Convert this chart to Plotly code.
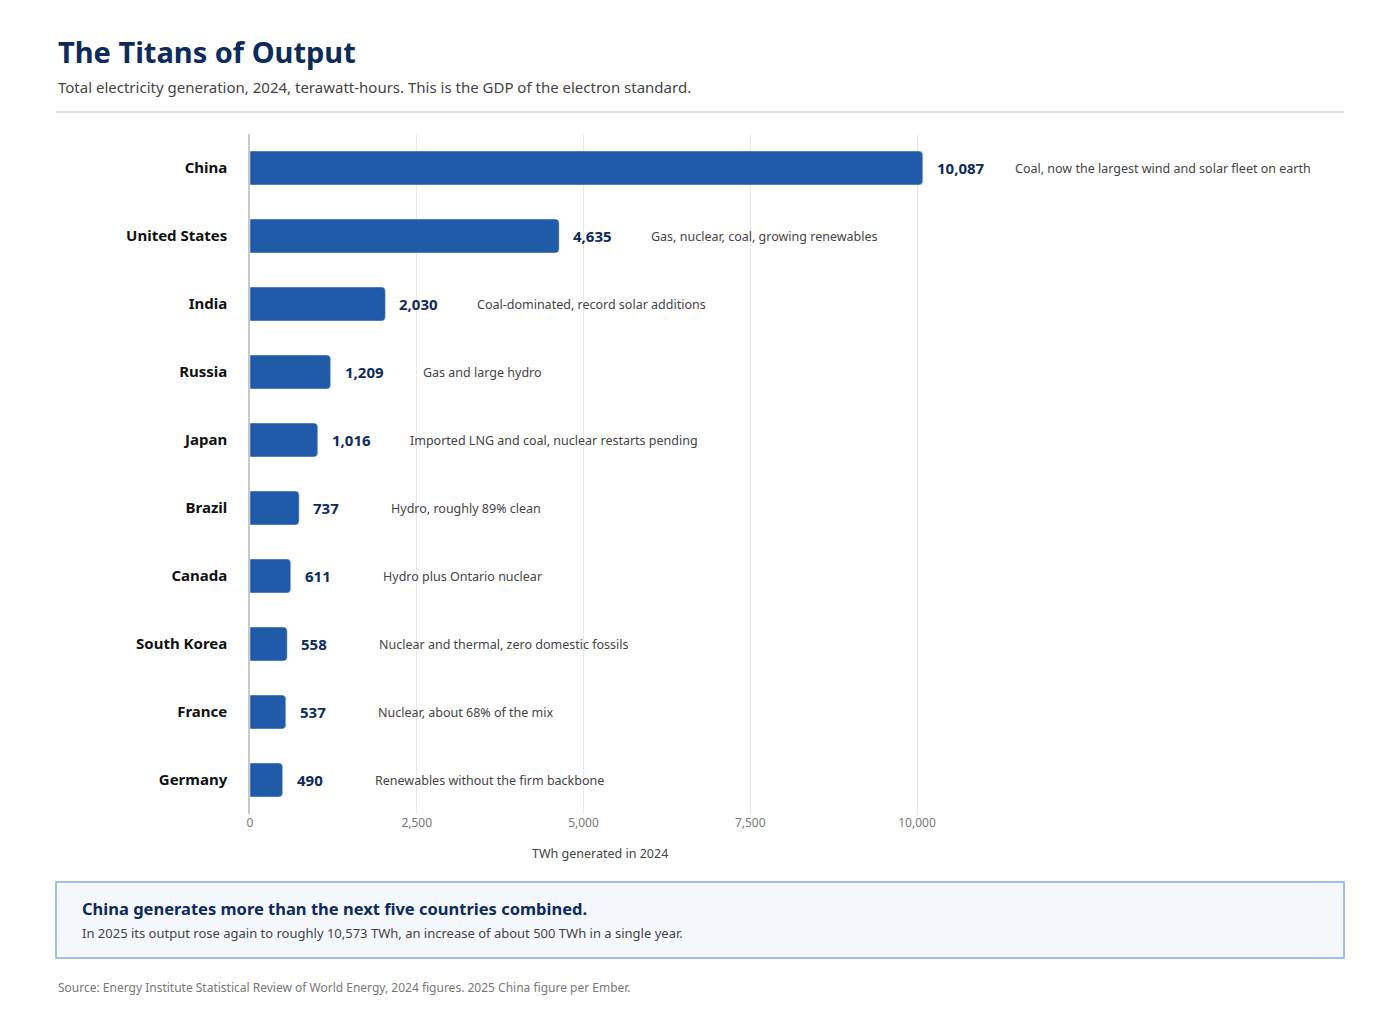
import plotly.graph_objects as go

countries = ["China", "United States", "India", "Russia", "Japan", "Brazil",
             "Canada", "South Korea", "France", "Germany"]
twh = [10087, 4635, 2030, 1209, 1016, 737, 611, 558, 537, 490]
notes = ["Coal, now the largest wind and solar fleet on earth",
         "Gas, nuclear, coal, growing renewables",
         "Coal-dominated, record solar additions",
         "Gas and large hydro",
         "Imported LNG and coal, nuclear restarts pending",
         "Hydro, roughly 89% clean",
         "Hydro plus Ontario nuclear",
         "Nuclear and thermal, zero domestic fossils",
         "Nuclear, about 68% of the mix",
         "Renewables without the firm backbone"]
tick_vals = [0, 2500, 5000, 7500, 10000]

FONT = "Noto Sans"
NAVY = "#0d2b5c"
BLUE = "#1f5ba8"

# page adds an 8px offset; target plot area in screen pixels x 250..1344, y 134..814
OFF = 8
W, H = 1400, 1020
pw, ph = 1094, 680
L, T = 250 - OFF, 134 - OFF
R, B = W - L - pw, H - T - ph


def px_x(x):
    return (x - OFF - L) / pw


def px_y(y):
    return (T + ph - (y - OFF)) / ph


fig = go.Figure(go.Bar(
    x=twh, y=countries, orientation="h", width=0.5,
    marker=dict(color=BLUE, cornerradius=4), hoverinfo="skip"))

for c, v, n in zip(countries, twh, notes):
    fig.add_annotation(x=v, y=c, text=f"<b>{v:,}</b>", showarrow=False,
                       xanchor="left", xshift=12,
                       font=dict(family=FONT, size=15, color=NAVY))
    fig.add_annotation(x=v, y=c, text=n, showarrow=False,
                       xanchor="left", xshift=90,
                       font=dict(family=FONT, size=12.5, color="#444"))

# header
fig.add_annotation(xref="paper", yref="paper", x=px_x(56), y=px_y(52),
                   xanchor="left", yanchor="middle", showarrow=False,
                   text="<b>The Titans of Output</b>",
                   font=dict(family=FONT, size=29, color=NAVY))
fig.add_annotation(xref="paper", yref="paper", x=px_x(56), y=px_y(87),
                   xanchor="left", yanchor="middle", showarrow=False,
                   text="Total electricity generation, 2024, terawatt-hours. This is the GDP of the electron standard.",
                   font=dict(family=FONT, size=15, color="#444"))
fig.add_shape(type="line", xref="paper", yref="paper",
              x0=px_x(56), x1=px_x(1344), y0=px_y(112), y1=px_y(112),
              line=dict(color="#d8d8d8", width=1.5))

# axis title (centred under the tick range, not the whole plot)
fig.add_annotation(xref="paper", yref="paper", x=px_x(600), y=px_y(853),
                   xanchor="center", yanchor="middle", showarrow=False,
                   text="TWh generated in 2024",
                   font=dict(family=FONT, size=12.5, color="#444"))

# callout box
fig.add_shape(type="rect", xref="paper", yref="paper",
              x0=px_x(56), x1=px_x(1344), y0=px_y(882), y1=px_y(958),
              fillcolor="#f4f8fd", line=dict(color="#9cc0ee", width=2), layer="below")
fig.add_annotation(xref="paper", yref="paper", x=px_x(80), y=px_y(908),
                   xanchor="left", yanchor="middle", showarrow=False,
                   text="<b>China generates more than the next five countries combined.</b>",
                   font=dict(family=FONT, size=16.5, color=NAVY))
fig.add_annotation(xref="paper", yref="paper", x=px_x(80), y=px_y(933),
                   xanchor="left", yanchor="middle", showarrow=False,
                   text="In 2025 its output rose again to roughly 10,573 TWh, an increase of about 500 TWh in a single year.",
                   font=dict(family=FONT, size=13, color="#444"))
fig.add_annotation(xref="paper", yref="paper", x=px_x(56), y=px_y(987),
                   xanchor="left", yanchor="middle", showarrow=False,
                   text="Source: Energy Institute Statistical Review of World Energy, 2024 figures. 2025 China figure per Ember.",
                   font=dict(family=FONT, size=12, color="#777"))

fig.update_layout(
    width=W, height=H, margin=dict(l=L, r=R, t=T, b=B),
    plot_bgcolor="white", paper_bgcolor="white", showlegend=False,
    font=dict(family=FONT),
    xaxis=dict(range=[0, pw / (667 / 10000)], tickvals=tick_vals,
               tickformat=",", showgrid=True, gridcolor="#e8e8e8",
               zeroline=False, ticks="", showline=False,
               tickfont=dict(size=12, color="#777")),
    yaxis=dict(autorange="reversed", showline=True, linecolor="#c8c8c8",
               linewidth=1.5, ticks="", ticklabelstandoff=18,
               tickfont=dict(size=15, color="#111", weight="bold")),
)
fig.write_html("out.html")
